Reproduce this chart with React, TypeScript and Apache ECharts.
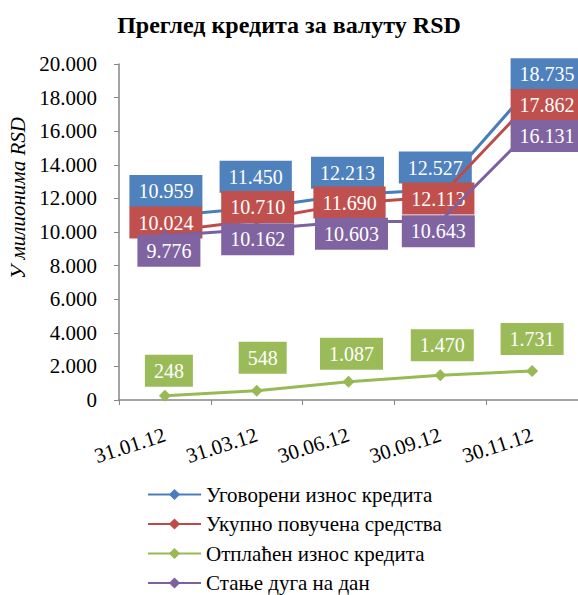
import React, { useEffect, useRef } from "react";
import * as echarts from "echarts";

const categories = ["31.01.12", "31.03.12", "30.06.12", "30.09.12", "30.11.12"];
const seriesNames = [
  "Уговорени износ кредита",
  "Укупно повучена средства",
  "Отплаћен износ кредита",
  "Стање дуга на дан",
];
const contracted = [10959, 11450, 12213, 12527, 18735];
const drawn = [10024, 10710, 11690, 12113, 17862];
const repaid = [248, 548, 1087, 1470, 1731];
const balance = [9776, 10162, 10603, 10643, 16131];
const yTicks = { min: 0, max: 20000, interval: 2000 };

// styling: label box offsets (dx, dy) relative to each point
const offsBlue = [[1, -25], [-1, -31], [-1, -22], [-5, -22], [15, -11]];
const offsRed = [[1, -9], [1, -13], [1, -1], [-2, 2], [15, 5]];
const offsGreen = [[4, -25], [6, -33], [3, -28], [2, -30], [0, -32]];
const offsPurple = [[4, 15], [1, 10], [3, 12], [-2, 10], [15, 7]];

const lineColors = ["#4A7EBB", "#BE4B48", "#98B954", "#7D60A0"];
const boxColors = ["#4F81BD", "#C0504D", "#9BBB59", "#8064A2"];

const FONT = "'Liberation Serif', 'Times New Roman', serif";

const fmt = (v: number) => String(v).replace(/\B(?=(\d{3})+(?!\d))/g, ".");

export default function App() {
  const ref = useRef<HTMLDivElement>(null);
  useEffect(() => {
    if (!ref.current) return;
    const chart = echarts.init(ref.current, undefined, { renderer: "svg" });
    const mk = (i: number, values: number[], offs: number[][]) => ({
      name: seriesNames[i],
      type: "line",
      symbol: "diamond",
      symbolSize: 12,
      lineStyle: { width: 3, color: lineColors[i] },
      itemStyle: { color: lineColors[i] },
      z: 2 + i,
      data: values.map((v, j) => ({
        value: v,
        label: { offset: offs[j] },
      })),
      label: {
        show: true,
        position: "inside",
        formatter: (p: any) => fmt(p.value),
        color: "#ffffff",
        fontFamily: FONT,
        fontSize: 20,
        lineHeight: 20,
        backgroundColor: boxColors[i],
        padding: [6, 9, 6, 9],
      },
    });
    chart.setOption({
      animation: false,
      backgroundColor: "#ffffff",
      textStyle: { fontFamily: FONT },
      title: {
        text: "Преглед кредита за валуту RSD",
        left: "center",
        top: 8,
        textStyle: {
          fontFamily: FONT,
          fontWeight: "bold",
          fontSize: 24,
          color: "#000",
        },
      },
      graphic: [
        {
          type: "text",
          x: 18,
          y: 198,
          rotation: Math.PI / 2,
          style: {
            text: "У милионима RSD",
            fontFamily: FONT,
            fontStyle: "italic",
            fontSize: 21,
            fill: "#000",
            align: "center",
            verticalAlign: "middle",
          },
        },
      ],
      legend: {
        orient: "vertical",
        left: 147,
        top: 484,
        padding: 0,
        itemWidth: 53,
        itemHeight: 14,
        itemGap: 8.5,
        data: seriesNames,
        textStyle: { fontFamily: FONT, fontSize: 21, color: "#000" },
      },
      grid: { left: 119, right: -2, top: 64, bottom: 195, containLabel: false },
      xAxis: {
        type: "category",
        data: categories,
        boundaryGap: true,
        axisLine: { lineStyle: { color: "#868686", width: 1.5 } },
        axisTick: { show: true, length: 5, alignWithLabel: false, lineStyle: { color: "#868686" } },
        axisLabel: {
          interval: 0,
          rotate: 18,
          margin: 34,
          fontFamily: FONT,
          fontSize: 21,
          color: "#000",
        },
      },
      yAxis: {
        type: "value",
        min: yTicks.min,
        max: yTicks.max,
        interval: yTicks.interval,
        splitLine: { show: false },
        axisLine: { show: true, lineStyle: { color: "#868686", width: 1.5 } },
        axisTick: { show: true, length: 5, lineStyle: { color: "#868686" } },
        axisLabel: {
          margin: 22,
          fontFamily: FONT,
          fontSize: 21,
          color: "#000",
          formatter: (v: number) => fmt(v),
        },
      },
      series: [
        mk(0, contracted, offsBlue),
        mk(1, drawn, offsRed),
        mk(2, repaid, offsGreen),
        mk(3, balance, offsPurple),
      ],
    });
    return () => chart.dispose();
  }, []);
  return (
    <div
      ref={ref}
      style={{ position: "absolute", left: 0, top: 0, width: 578, height: 595 }}
    />
  );
}
